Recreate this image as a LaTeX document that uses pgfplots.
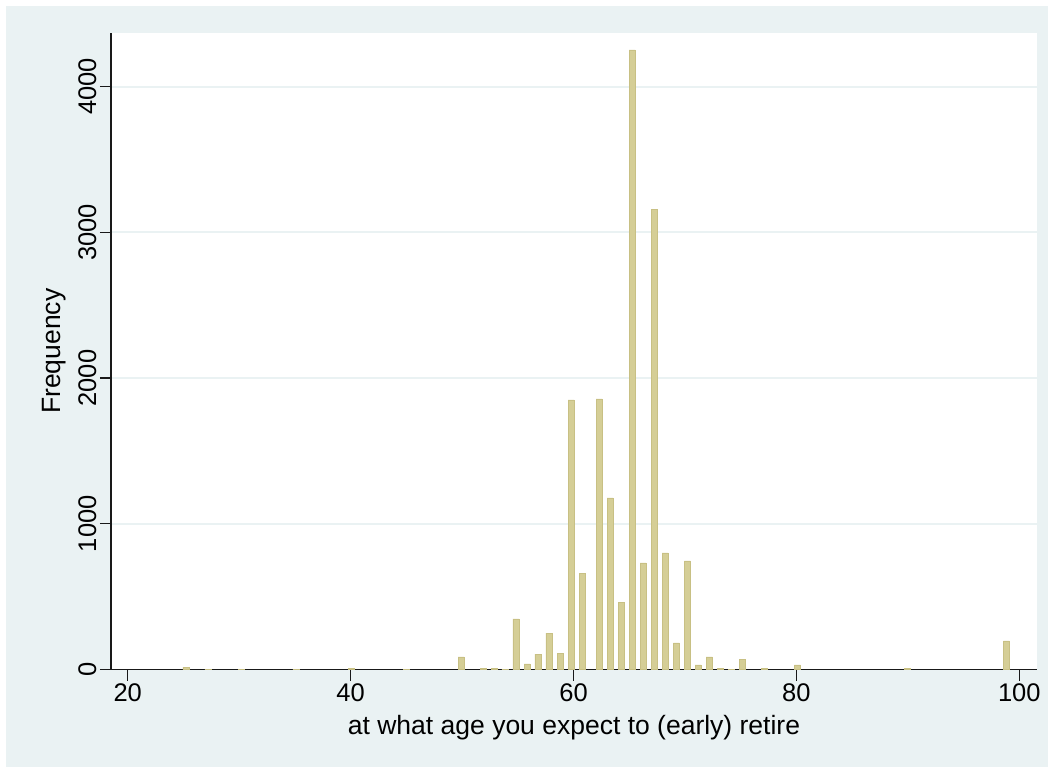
\documentclass[border=0pt]{standalone}
\usepackage{pgfplots}
\pgfplotsset{compat=1.18}
\usepackage{fontspec}
\setmainfont{Liberation Sans}
\definecolor{bgc}{RGB}{234,242,243}
\definecolor{barfill}{RGB}{213,206,150}
\definecolor{baredge}{RGB}{200,192,132}
\begin{document}
\begin{tikzpicture}[x=1pt,y=1pt]
\fill[white] (0,0) rectangle (1048,769);
\fill[bgc] (6,2) rectangle (1048,763);
\begin{axis}[
  at={(111pt,99.5pt)}, anchor=south west,
  scale only axis, width=926pt, height=636.5pt,
  xmin=18.5, xmax=101.59, ymin=0, ymax=4368,
  axis x line*=bottom, axis y line*=left,
  axis line style={line width=1.4pt, color=black!90, -},
  axis background/.style={fill=white},
  xtick={20,40,60,80,100}, ytick={0,1000,2000,3000,4000},
  tick align=outside, major tick length=11pt,
  tick style={line width=1.4pt, color=black!90},
  ymajorgrids, grid style={line width=2pt, color=bgc},
  /pgf/number format/assume math mode=true,
  /pgf/number format/1000 sep={},
  ticklabel style={font=\fontsize{25.5}{30}\selectfont},
  yticklabel style={rotate=90, anchor=south},
  xlabel={at what age you expect to (early) retire},
  ylabel={Frequency},
  label style={font=\fontsize{26.5}{31}\selectfont},
  xlabel style={at={(axis description cs:0.5,-0.092)}, anchor=center},
  ylabel style={at={(axis description cs:-0.0616,0.5)}, anchor=center},
]
\addplot[ybar, bar width=0.54, fill=barfill, draw=baredge, line width=0.6pt] table {
x y
25.23 17
27.2 2
30.2 3
35.1 3
40.04 10
45.0 3
49.91 86
51.88 10
52.87 10
53.85 3
54.84 347
55.83 38
56.81 106
57.80 250
58.79 113
59.78 1850
60.77 662
62.29 1857
63.28 1177
64.27 463
65.26 4252
66.25 731
67.24 3155
68.23 800
69.22 182
70.21 745
71.19 31
72.18 86
73.17 10
74.16 3
75.15 72
77.12 10
80.08 31
89.95 7
98.83 196
};
\end{axis}
\pgfresetboundingbox
\useasboundingbox (0,0) rectangle (1048,769);
\end{tikzpicture}
\end{document}
